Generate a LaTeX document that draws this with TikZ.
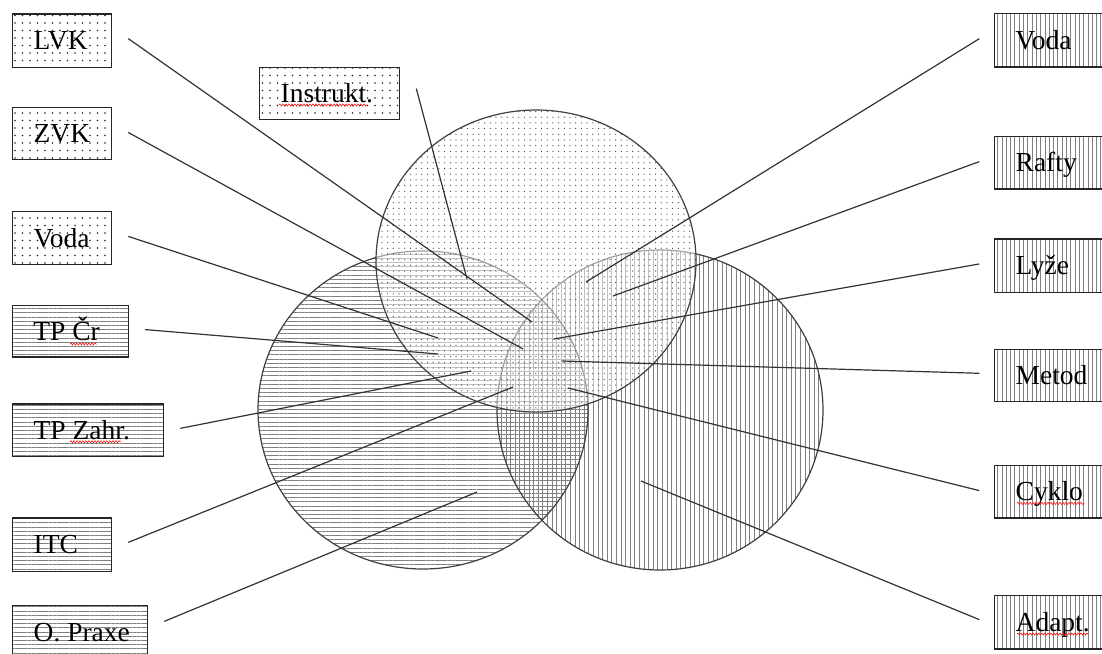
\documentclass[tikz,border=0pt]{standalone}
\usepackage{fontspec}
\setmainfont{Liberation Serif}
\usetikzlibrary{patterns.meta,decorations.pathmorphing}
\newcommand\boxtxt[2]{\makebox[#1][l]{#2}}
\tikzset{
  lbl/.style={draw=black!85, line width=1.3pt, rectangle, anchor=north west,
    inner xsep=21pt, inner ysep=0pt,
    font=\fontsize{27.5}{32}\selectfont, text height=18.2pt, text depth=0pt},
  dotbox/.style={lbl, pattern={Dots[distance=7.5pt,radius=0.8pt]}, pattern color=black!85},
  hbox/.style={lbl, pattern={Lines[distance=4.2pt,line width=0.8pt]}, pattern color=black!50},
  vbox/.style={lbl, pattern={Lines[angle=90,distance=4.3pt,line width=0.8pt]}, pattern color=black!50},
  conn/.style={draw=black!80, line width=1.2pt},
  ring/.style={draw=black!75, line width=1.2pt},
  squig/.style={draw=red, line width=0.5pt, decorate, decoration={snake, amplitude=1.1pt, segment length=3pt}},
}
\begin{document}
\begin{tikzpicture}[x=1pt, y=-1pt]
\useasboundingbox (0,0) rectangle (1102,653);
\fill[white] (0,0) rectangle (1102,653);

% left circle (horizontal lines)
\path[pattern={Lines[distance=4.2pt,line width=0.9pt]}, pattern color=black!50]
  (423,410) ellipse [x radius=165pt, y radius=159pt];
% right circle (vertical lines)
\path[pattern={Lines[angle=90,distance=4.6pt,line width=0.9pt]}, pattern color=black!50]
  (660,410) ellipse [x radius=163pt, y radius=160pt];
\path[ring] (423,410) ellipse [x radius=165pt, y radius=159pt];
\path[ring] (660,410) ellipse [x radius=163pt, y radius=160pt];
% top circle (dots), drawn over with a light veil
\fill[white, fill opacity=0.5] (536,261) ellipse [x radius=160pt, y radius=151pt];
\path[pattern={Dots[distance=5.7pt,radius=0.65pt]}, pattern color=black!70]
  (536,261) ellipse [x radius=160pt, y radius=151pt];
\path[ring] (536,261) ellipse [x radius=160pt, y radius=151pt];

% left boxes
\node[dotbox, minimum height=53.4pt] (lvk) at (12,13.3) {\boxtxt{57pt}{LVK}};
\node[dotbox, minimum height=52.3pt] (zvk) at (12,106.7) {\boxtxt{57pt}{ZVK}};
\node[dotbox, minimum height=52.3pt] (instr) at (259,66.7) {\boxtxt{98pt}{Instrukt.}};
\node[dotbox, minimum height=53.3pt] (vodal) at (12,210.7) {\boxtxt{57pt}{Voda}};
\node[hbox, minimum height=51.7pt] (tpcr) at (12,305) {\boxtxt{74pt}{TP Čr}};
\node[hbox, minimum height=52.4pt] (tpzahr) at (12,403.3) {\boxtxt{109pt}{TP Zahr.}};
\node[hbox, minimum height=53.4pt] (itc) at (12,517.3) {\boxtxt{57pt}{ITC}};
\node[hbox, minimum height=53pt] (praxe) at (12,605) {\boxtxt{93pt}{O. Praxe}};

% right boxes
\node[vbox, minimum height=53.4pt] (vodar) at (994,13.3) {\boxtxt{78pt}{Voda}};
\node[vbox, minimum height=52.3pt] (rafty) at (994,136) {\boxtxt{78pt}{Rafty}};
\node[vbox, minimum height=53.4pt] (lyze) at (994,238.3) {\boxtxt{78pt}{Lyže}};
\node[vbox, minimum height=51.7pt] (metod) at (994,349) {\boxtxt{78pt}{Metod}};
\node[vbox, minimum height=52.3pt] (cyklo) at (994,465) {\boxtxt{78pt}{Cyklo}};
\node[vbox, minimum height=53.3pt] (adapt) at (994,595) {\boxtxt{78pt}{Adapt.}};

% spell-check underlines
\path[squig] (279,105) -- (367,105);
\path[squig] (70,344) -- (97,344);
\path[squig] (70,441.7) -- (121,441.7);
\path[squig] (1017,503.3) -- (1084,503.3);
\path[squig] (1017,634) -- (1088,634);

% end points inside the circles
\coordinate (eLVK) at (532,322);
\coordinate (eZVK) at (523,349);
\coordinate (eInstr) at (467,279);
\coordinate (eVodaL) at (438,338);
\coordinate (eTPCr) at (438,354);
\coordinate (eTPZahr) at (471,371);
\coordinate (eITC) at (513,387);
\coordinate (ePraxe) at (477,492);
\coordinate (eVodaR) at (586,282);
\coordinate (eRafty) at (613,296);
\coordinate (eLyze) at (554,339);
\coordinate (eMetod) at (562,361);
\coordinate (eCyklo) at (568,388);
\coordinate (eAdapt) at (641,481);

% connectors
\draw[conn] ([xshift=16pt,yshift=2pt]lvk.east) -- (eLVK);
\draw[conn] ([xshift=16pt,yshift=1pt]zvk.east) -- (eZVK);
\draw[conn] ([xshift=16pt,yshift=5pt]instr.east) -- (eInstr);
\draw[conn] ([xshift=16pt,yshift=1.6pt]vodal.east) -- (eVodaL);
\draw[conn] ([xshift=16pt,yshift=1.7pt]tpcr.east) -- (eTPCr);
\draw[conn] ([xshift=16pt,yshift=1.8pt]tpzahr.east) -- (eTPZahr);
\draw[conn] ([xshift=16pt,yshift=2.3pt]itc.east) -- (eITC);
\draw[conn] ([xshift=16pt,yshift=10.8pt]praxe.east) -- (ePraxe);
\draw[conn] ([xshift=-14.7pt,yshift=1.7pt]vodar.west) -- (eVodaR);
\draw[conn] ([xshift=-14.7pt,yshift=1.2pt]rafty.west) -- (eRafty);
\draw[conn] ([xshift=-14.7pt,yshift=1.7pt]lyze.west) -- (eLyze);
\draw[conn] ([xshift=-14.7pt,yshift=2.2pt]metod.west) -- (eMetod);
\draw[conn] ([xshift=-14.7pt,yshift=1.2pt]cyklo.west) -- (eCyklo);
\draw[conn] ([xshift=-14.7pt,yshift=2.7pt]adapt.west) -- (eAdapt);
\end{tikzpicture}
\end{document}
